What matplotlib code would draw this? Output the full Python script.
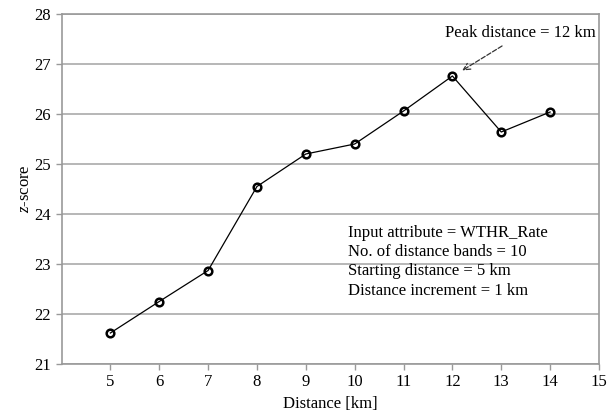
import matplotlib.pyplot as plt

distance = [5, 6, 7, 8, 9, 10, 11, 12, 13, 14]
zscore = [21.62, 22.25, 22.87, 24.55, 25.2, 25.4, 26.06, 26.76, 25.64, 26.04]
x_ticks = list(range(5, 16))
y_ticks = list(range(21, 29))
info_lines = [
    "Input attribute = WTHR_Rate",
    "No. of distance bands = 10",
    "Starting distance = 5 km",
    "Distance increment = 1 km",
]

plt.rcParams['font.family'] = ['Liberation Serif', 'DejaVu Serif']
plt.rcParams['mathtext.fontset'] = 'custom'
plt.rcParams['mathtext.it'] = 'Liberation Serif:italic'
plt.rcParams['mathtext.rm'] = 'Liberation Serif'

fig = plt.figure(figsize=(6.14, 4.16), dpi=100)
ax = fig.add_axes([61.5 / 614, 1 - 364 / 416, (599 - 61.5) / 614, (364 - 14) / 416])

ax.plot(distance, zscore, color='black', lw=0.9, marker='o', ms=5.5,
        mfc='none', mec='black', mew=1.8, zorder=3)

ax.set_xlim(4, 15)
ax.set_ylim(21, 28)
ax.set_xticks(x_ticks)
ax.set_yticks(y_ticks)
ax.tick_params(labelsize=12, color='#999999', length=4, direction='out', width=1)
ax.grid(axis='y', color='#aaaaaa', lw=1.2)
ax.set_axisbelow(True)
for s in ax.spines.values():
    s.set_color('#999999')
    s.set_linewidth(1.2)

ax.set_xlabel('Distance [km]', fontsize=12, labelpad=4)
ax.set_ylabel('$z$-score', fontsize=12, labelpad=1)

ax.annotate('Peak distance = 12 km', xy=(12.2, 26.87), xytext=(14.94, 27.62),
            ha='right', va='center', fontsize=12,
            arrowprops=dict(arrowstyle='->', ls='--', color='#333333', lw=0.9,
                            shrinkA=3, shrinkB=0, relpos=(0.43, 0.0)))

ax.text(9.86, 23.78, '\n'.join(info_lines), ha='left', va='top',
        fontsize=12, linespacing=1.27)

fig.savefig('out.png', dpi=100)
